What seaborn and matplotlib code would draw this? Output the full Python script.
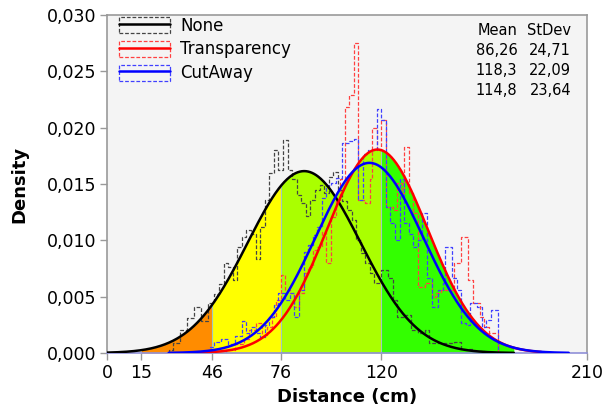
import numpy as np
import pandas as pd
import matplotlib
matplotlib.use("Agg")
import matplotlib.pyplot as plt
import seaborn as sns
from matplotlib.patches import Patch
from matplotlib.lines import Line2D
from matplotlib.legend_handler import HandlerTuple
from matplotlib.ticker import FuncFormatter

# ---------------- data ----------------
groups = ["None", "Transparency", "CutAway"]
means = [86.26, 118.3, 114.8]
stdevs = [24.71, 22.09, 23.64]
curve_ranges = [(0, 178), (38, 190), (27, 202)]

none_edges = [27, 29, 32, 35, 38, 41, 44, 47, 49, 51, 53, 55, 57, 59, 61, 63, 65, 67, 69, 71,
              73, 75, 77, 79, 81, 83, 85, 87, 89, 91, 93, 95, 97, 99, 101, 103, 105, 107, 109,
              111, 113, 115, 117, 120, 123, 125, 127, 130, 133, 136, 139, 141, 148, 152, 155,
              160, 165, 170]
none_dens = [0.0003, 0.0009, 0.0020, 0.0031, 0.0041, 0.0028, 0.0044, 0.0052, 0.0061, 0.0080,
             0.0076, 0.0065, 0.0094, 0.0103, 0.0109, 0.0106, 0.0083, 0.0112, 0.0136, 0.0160,
             0.0180, 0.0162, 0.0189, 0.0162, 0.0154, 0.0140, 0.0133, 0.0122, 0.0136, 0.0145,
             0.0149, 0.0142, 0.0156, 0.0161, 0.0145, 0.0135, 0.0127, 0.0118, 0.0100, 0.0089,
             0.0080, 0.0071, 0.0062, 0.0074, 0.0067, 0.0047, 0.0032, 0.0034, 0.0020, 0.0018,
             0.0020, 0.0009, 0.0009, 0.0010, 0.0004, 0.0002, 0.0001]

transp_edges = [52, 56, 60, 62, 65, 68, 70, 72, 74, 76, 78, 80, 82, 84, 86, 88, 90, 92, 94, 96,
                98, 100, 102, 104, 106, 108, 110, 113, 115, 116, 118, 120, 122, 125, 127, 129,
                130, 132, 134, 136, 139, 142, 144, 146, 152, 155, 158, 160, 163, 165, 167, 171]
transp_dens = [0.0003, 0.0008, 0.0012, 0.0020, 0.0027, 0.0015, 0.0023, 0.0032, 0.0047, 0.0069,
               0.0056, 0.0053, 0.0041, 0.0053, 0.0071, 0.0076, 0.0091, 0.0094, 0.0107, 0.0080,
               0.0121, 0.0136, 0.0154, 0.0218, 0.0229, 0.0275, 0.0136, 0.0133, 0.0154, 0.0200,
               0.0180, 0.0207, 0.0130, 0.0127, 0.0151, 0.0142, 0.0183, 0.0142, 0.0124, 0.0059,
               0.0062, 0.0050, 0.0053, 0.0056, 0.0080, 0.0103, 0.0065, 0.0044, 0.0032, 0.0023,
               0.0018]

cut_edges = [45, 47, 50, 53, 56, 59, 61, 63, 65, 67, 69, 71, 73, 75, 78, 80, 82, 84, 86, 88, 90,
             92, 94, 96, 98, 100, 103, 106, 108, 110, 112, 114, 118, 120, 122, 124, 126, 128,
             130, 132, 134, 136, 138, 140, 142, 145, 147, 148, 151, 153, 155, 157, 159, 162,
             164, 166, 168, 171]
cut_dens = [0.0005, 0.0010, 0.0012, 0.0008, 0.0015, 0.0028, 0.0018, 0.0023, 0.0018, 0.0014,
            0.0025, 0.0032, 0.0043, 0.0053, 0.0047, 0.0053, 0.0032, 0.0056, 0.0090, 0.0096,
            0.0105, 0.0112, 0.0138, 0.0149, 0.0151, 0.0155, 0.0186, 0.0188, 0.0190, 0.0136,
            0.0177, 0.0180, 0.0217, 0.0207, 0.0130, 0.0115, 0.0100, 0.0154, 0.0115, 0.0106,
            0.0094, 0.0100, 0.0124, 0.0067, 0.0041, 0.0056, 0.0062, 0.0094, 0.0067, 0.0056,
            0.0027, 0.0025, 0.0044, 0.0041, 0.0023, 0.0029, 0.0038]

zone_bounds = [15, 46, 76, 120, 178]
zone_colors = ["#FF8C00", "#FFFF00", "#AAFF00", "#33FF00"]

x_ticks = [0, 15, 46, 76, 120, 210]
y_ticks = [0.000, 0.005, 0.010, 0.015, 0.020, 0.025, 0.030]

line_colors = ["#000000", "#FF0000", "#0000FF"]
hist_colors = ["#444444", "#FF4040", "#4040FF"]

# ---------------- style ----------------
sns.set_style("white", {"axes.facecolor": "#F4F4F4"})
plt.rcParams["font.family"] = ["DejaVu Sans"]
plt.rcParams["text.color"] = "black"
plt.rcParams["axes.labelcolor"] = "black"

fig = plt.figure(figsize=(6.05, 4.11), dpi=100)
ax = fig.add_axes([0.1769, 0.1411, 0.7933, 0.8224])

xg = np.linspace(0, 210, 2101)


def pdf(x, m, s):
    return np.exp(-0.5 * ((x - m) / s) ** 2) / (s * np.sqrt(2 * np.pi))


envelope = np.max([pdf(xg, m, s) for m, s in zip(means, stdevs)], axis=0)

# coloured zones under envelope
for i, c in enumerate(zone_colors):
    lo, hi = zone_bounds[i], zone_bounds[i + 1]
    mask = (xg >= lo) & (xg <= hi)
    ax.fill_between(xg[mask], 0, envelope[mask], color=c, linewidth=0, zorder=1)
for b in zone_bounds[1:-1]:
    ax.vlines(b, 0, np.interp(b, xg, envelope), color="#A0C8C0", lw=0.8, zorder=1.5)

# histograms (step outlines)
hist_sets = [(none_edges, none_dens), (transp_edges, transp_dens), (cut_edges, cut_dens)]
for (edges, dens), g, c in zip(hist_sets, groups, hist_colors):
    xs = [edges[0]] + list(edges)
    ys = [0.0] + list(dens) + [0.0]
    df = pd.DataFrame({"x": xs, "y": ys})
    sns.lineplot(data=df, x="x", y="y", ax=ax, estimator=None, sort=False,
                 drawstyle="steps-post", color=c, lw=0.9, linestyle=(0, (3, 1.5)), zorder=2)

# normal fitted curves
for g, m, s, (lo, hi), c in zip(groups, means, stdevs, curve_ranges, line_colors):
    xx = np.linspace(lo, hi, 600)
    df = pd.DataFrame({"x": xx, "y": pdf(xx, m, s)})
    sns.lineplot(data=df, x="x", y="y", ax=ax, estimator=None, sort=False,
                 color=c, lw=1.8, zorder=3)

ax.set_xlim(0, 210)
ax.set_ylim(0, 0.030)
ax.set_xticks(x_ticks)
ax.set_yticks(y_ticks)
ax.yaxis.set_major_formatter(FuncFormatter(lambda v, p: f"{v:.3f}".replace(".", ",")))
ax.tick_params(axis="both", which="major", direction="out", length=5, width=1,
               color="#999999", labelsize=12.5, labelcolor="black", pad=3)
ax.tick_params(left=True, bottom=True)
for side in ["left", "top", "right"]:
    ax.spines[side].set_color("#999999")
    ax.spines[side].set_linewidth(1.2)
ax.spines["bottom"].set_color("#9090D8")
ax.spines["bottom"].set_linewidth(1.2)

ax.set_xlabel("Distance (cm)", fontsize=13, fontweight="bold", labelpad=4, color="black")
ax.set_ylabel("Density", fontsize=13, fontweight="bold", labelpad=13, color="black")

# legend
handles = []
for c, hc in zip(line_colors, hist_colors):
    p = Patch(facecolor="none", edgecolor=hc, linestyle=(0, (3, 1.5)), linewidth=0.9)
    l = Line2D([], [], color=c, lw=1.8)
    handles.append((p, l))
ax.legend(handles, groups, handler_map={tuple: HandlerTuple(ndivide=1, pad=0)},
          loc="upper left", bbox_to_anchor=(0.0, 1.03), frameon=False, fontsize=12,
          handlelength=3.1, handleheight=1.1, labelspacing=0.35, handletextpad=0.6,
          borderaxespad=0.3, labelcolor="black")

# stats table
ax.text(0.855, 0.955, "Mean", transform=ax.transAxes, ha="right", va="center",
        fontsize=10.5, color="black")
ax.text(0.967, 0.955, "StDev", transform=ax.transAxes, ha="right", va="center",
        fontsize=10.5, color="black")
for i, (m, s) in enumerate(zip(means, stdevs)):
    y = 0.896 - i * 0.0592
    ax.text(0.855, y, f"{m:g}".replace(".", ","), transform=ax.transAxes, ha="right",
            va="center", fontsize=10.5, color="black")
    ax.text(0.967, y, f"{s:g}".replace(".", ","), transform=ax.transAxes, ha="right",
            va="center", fontsize=10.5, color="black")

fig.savefig("out.png", dpi=100, facecolor="white")
